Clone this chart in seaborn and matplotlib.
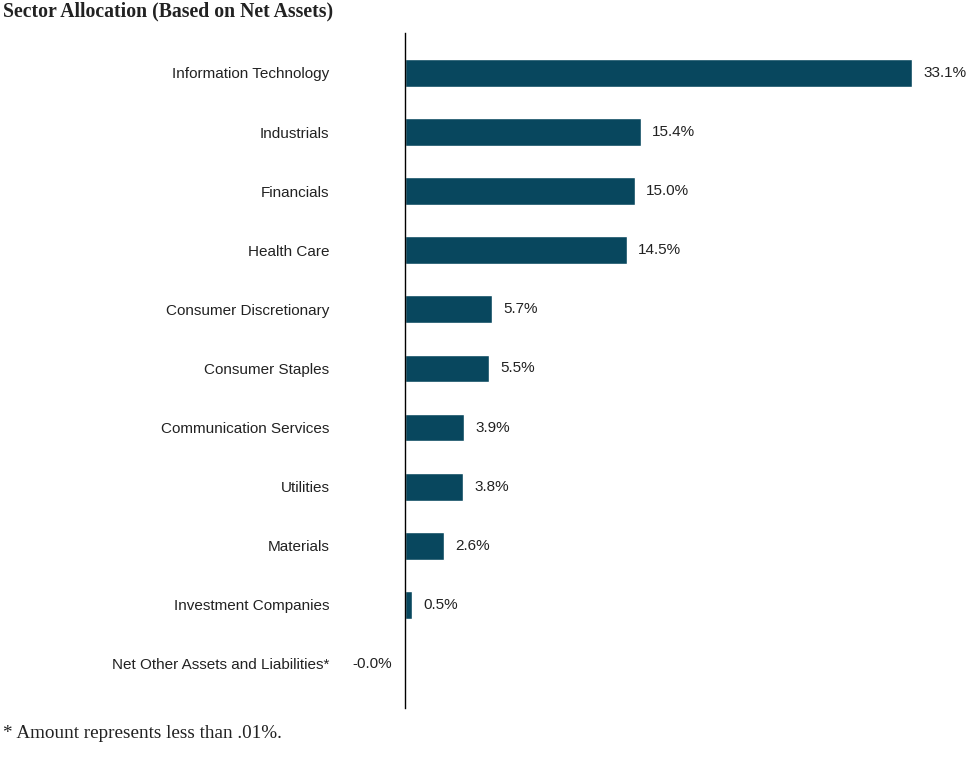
import seaborn as sns
import matplotlib.pyplot as plt
import pandas as pd

# Sector allocation data
sectors = ["Information Technology", "Industrials", "Financials", "Health Care",
           "Consumer Discretionary", "Consumer Staples", "Communication Services",
           "Utilities", "Materials", "Investment Companies",
           "Net Other Assets and Liabilities*"]
values = [33.1, 15.4, 15.0, 14.5, 5.7, 5.5, 3.9, 3.8, 2.6, 0.5, -0.0]
labels = ["33.1%", "15.4%", "15.0%", "14.5%", "5.7%", "5.5%", "3.9%", "3.8%",
          "2.6%", "0.5%", "-0.0%"]

df = pd.DataFrame({"sector": sectors, "value": values})

sns.set_style("white")
plt.rcParams["font.family"] = ["Liberation Sans", "DejaVu Sans"]

fig = plt.figure(figsize=(9.68, 7.84), dpi=100)
ax = fig.add_axes([0.418, 0.097, 0.582, 0.861])

sns.barplot(data=df, x="value", y="sector", color="#08475e", width=0.47,
            saturation=1, ax=ax)

ax.set_xlim(0, 36.75)
ax.set_ylim(10.745, -0.677)
ax.set_xlabel("")
ax.set_ylabel("")
ax.set_xticks([])
for side in ["top", "right", "bottom"]:
    ax.spines[side].set_visible(False)
ax.spines["left"].set_color("#000000")
ax.spines["left"].set_linewidth(1)
ax.tick_params(axis="y", length=0, pad=54, labelsize=11, labelcolor="#222222")
for t in ax.get_yticklabels():
    t.set_fontstretch("condensed")

# Value labels
for i, (v, lab) in enumerate(zip(values, labels)):
    if v > 0:
        ax.annotate(lab, (v, i), xytext=(8, 0), textcoords="offset points",
                    va="center", ha="left", fontsize=11, color="#222222")
    else:
        ax.annotate(lab, (0, i), xytext=(-9, 0), textcoords="offset points",
                    va="center", ha="right", fontsize=11, color="#222222")

fig.text(0.003, 0.985, "Sector Allocation (Based on Net Assets)",
         family=["Liberation Serif", "DejaVu Serif"], fontweight="bold",
         fontsize=14.2, va="center", ha="left", color="#222222")
fig.text(0.003, 0.065, "* Amount represents less than .01%.",
         family=["Liberation Serif", "DejaVu Serif"], fontsize=13.8,
         va="center", ha="left", color="#222222")

plt.savefig("out.png", dpi=100)
